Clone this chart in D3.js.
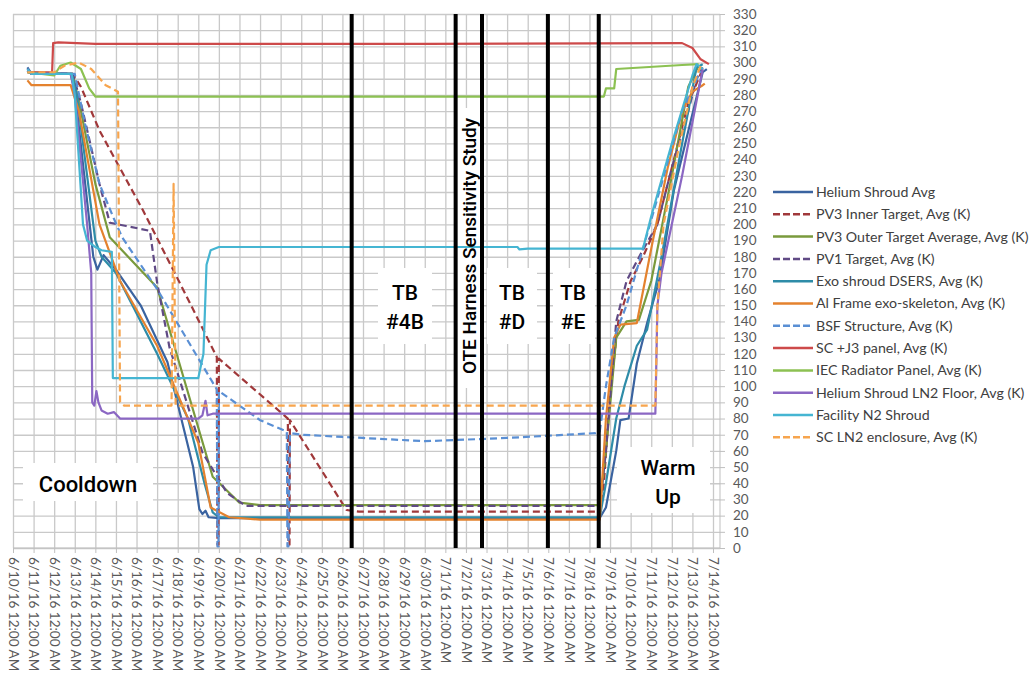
<!DOCTYPE html>
<html lang="en">
<head>
<meta charset="UTF-8">
<title>Thermal Vacuum Test Temperatures</title>
<script src="https://d3js.org/d3.v7.min.js"></script>
<style>
    body { margin: 0; background: #fff; }
    .grid line { stroke: #c9c9c9; stroke-width: 1.3; }
    .grid path { display: none; }
    .axis text { fill: #595959; font-family: Lato, "Open Sans", sans-serif; font-size: 13.5px; }
    .axis path, .axis line { stroke: #bfbfbf; }
    .legend text { fill: #404040; font-family: Lato, "Open Sans", sans-serif; font-size: 14.2px; }
    .note { fill: #000; font-family: Roboto, "Liberation Sans", sans-serif; font-weight: 500; }
</style>
</head>
<body>
<div id="chart"></div>
<script>
// x values are days after 6/10/16 12:00 AM, y values are Kelvin
const xLabels = [
    "6/10/16 12:00 AM", "6/11/16 12:00 AM", "6/12/16 12:00 AM", "6/13/16 12:00 AM",
    "6/14/16 12:00 AM", "6/15/16 12:00 AM", "6/16/16 12:00 AM", "6/17/16 12:00 AM",
    "6/18/16 12:00 AM", "6/19/16 12:00 AM", "6/20/16 12:00 AM", "6/21/16 12:00 AM",
    "6/22/16 12:00 AM", "6/23/16 12:00 AM", "6/24/16 12:00 AM", "6/25/16 12:00 AM",
    "6/26/16 12:00 AM", "6/27/16 12:00 AM", "6/28/16 12:00 AM", "6/29/16 12:00 AM",
    "6/30/16 12:00 AM", "7/1/16 12:00 AM", "7/2/16 12:00 AM", "7/3/16 12:00 AM",
    "7/4/16 12:00 AM", "7/5/16 12:00 AM", "7/6/16 12:00 AM", "7/7/16 12:00 AM",
    "7/8/16 12:00 AM", "7/9/16 12:00 AM", "7/10/16 12:00 AM", "7/11/16 12:00 AM",
    "7/12/16 12:00 AM", "7/13/16 12:00 AM", "7/14/16 12:00 AM"
];

const seriesNames = [
    "Helium Shroud Avg", "PV3 Inner Target, Avg (K)", "PV3 Outer Target Average, Avg (K)",
    "PV1 Target, Avg (K)", "Exo shroud DSERS, Avg (K)", "Al Frame exo-skeleton, Avg (K)",
    "BSF Structure, Avg (K)", "SC +J3 panel, Avg (K)", "IEC Radiator Panel, Avg (K)",
    "Helium Shroud LN2 Floor, Avg (K)", "Facility N2 Shroud", "SC LN2 enclosure, Avg (K)"
];

const heliumShroud = [[0.7,297],[0.9,293],[2.8,293],[3.0,283],[3.9,180],[4.1,172],[4.4,181],[5.0,172],
    [6.2,150],[7.5,115],[8.75,50],[9.05,24],[9.2,21],[9.35,23],[9.5,19],[10,18.5],[28.5,18.5],
    [28.8,25],[29.3,60],[29.5,79],[29.9,80],[30.3,114],[30.8,139],[31.4,166],[32.1,221],
    [32.9,263],[33.5,294],[33.7,296]];
const pv3Inner = [[0.7,295],[0.9,293],[2.9,293],[3.3,285],[4.2,258],[6.3,209],[8.45,155],[9.9,118],
    [9.93,2],[9.98,2],[10.0,117],[13.35,80],[13.38,2],[13.43,2],[13.45,79],[16.2,23.5],[16.8,22.5],
    [28.5,22.5],[28.7,40],[29.0,95],[29.4,140],[30.0,165],[30.6,180],[31.3,200],[32,235],
    [32.8,275],[33.5,296]];
const pv3Outer = [[0.7,294],[2.9,293],[3.3,270],[4.0,225],[4.7,192],[7,161],[9.7,44],[11,28],
    [12,26.5],[28.5,26.5],[28.8,60],[29.3,130],[29.8,140],[30.4,141],[31.0,165],[32,230],
    [32.8,285],[33.3,298]];
const pv1Target = [[0.7,294],[2.9,293],[3.3,275],[4.2,225],[4.7,201],[5.5,199],[6.65,196],[7.0,164],
    [7.6,124],[9.2,59],[10.4,34],[11.3,26],[28.5,26],[28.8,60],[29.3,140],[29.8,165],[30.5,182],
    [31.3,200],[32,235],[32.7,265],[33.2,290],[33.5,297]];
const exoShroud = [[0.7,295],[0.9,293],[2.85,293],[3.1,280],[4.0,190],[4.3,180],[5,170],[7,120],
    [8.5,80],[9.3,40],[9.7,22],[10,19],[28.5,19],[28.8,40],[29.3,80],[29.7,100],[30.3,125],
    [30.8,135],[31.5,180],[32.5,250],[33.2,297],[33.5,299]];
const alFrame = [[0.7,289],[0.9,286],[2.8,286],[3.2,270],[4.2,200],[5.2,165],[7,125],[9.0,65],
    [9.6,25],[10.5,19],[12,17.5],[28.5,17.5],[28.8,80],[29.2,130],[29.5,138],[30.3,139],
    [31.0,185],[31.8,235],[32.5,270],[33.0,282],[33.5,286],[33.6,287]];
const bsfStructure = [[0.7,295],[0.9,293],[3.0,293],[3.5,262],[4.2,225],[4.85,205],[5.3,192],
    [7.0,160],[9.9,98],[9.93,1],[9.98,1],[10.0,97],[11,88],[12,79],[13.3,72],[13.33,1],[13.38,1],
    [13.45,71],[14,70],[17,68],[20,66],[22,67],[24,68],[28.3,71],[28.5,72],[28.8,100],
    [29.2,130],[29.8,150],[30.6,185],[31.5,225],[32.5,270],[33.4,295]];
const scJ3Panel = [[0.7,294],[1.9,294],[1.95,312],[2.2,312.5],[4,311.5],[20,311.5],[32.5,312],
    [33,309],[33.4,302],[33.8,299]];
const iecRadiator = [[0.7,294],[2.0,292],[2.3,298],[2.8,300],[3.3,296],[3.7,284],[4.0,279],
    [28.7,279],[28.8,284],[29.2,284],[29.3,296],[32.5,298.5],[33.3,299]];
const heliumLN2Floor = [[0.7,296],[0.9,293],[2.8,293],[3.0,280],[3.6,200],[3.8,170],[3.85,90],
    [3.95,88],[4.05,97],[4.15,90],[4.3,85],[4.6,83],[4.9,84],[5.2,80],[9.0,80],[9.2,82],
    [9.35,91],[9.45,82],[9.7,83],[31.2,83],[31.3,150],[31.5,170],[32.5,230],[33.5,296]];
const facilityN2 = [[0.7,296],[0.9,293],[2.85,293],[3.0,280],[3.4,200],[3.6,190],[4.0,186],
    [4.3,184],[4.8,183],[4.85,105],[5.5,105],[9.0,105],[9.25,120],[9.4,175],[9.6,184],[10,186],
    [24.5,186],[24.6,184.5],[25,185],[30.6,185],[31,205],[32,250],[33,292],[33.2,299],[33.5,296]];
const scLN2Enclosure = [[0.7,294],[2.0,294],[2.5,298],[3.2,300],[3.8,296],[4.5,286],[5.1,282],
    [5.2,90],[5.4,88],[7.7,88],[7.8,225],[7.9,88],[31.2,88],[31.3,150],[31.6,200],[32.3,245],
    [33.0,285],[33.4,298]];

// test phase markers (days)
const markerDays = [16.45, 21.5, 22.78, 25.98, 28.45];

const allSeries = [heliumShroud, pv3Inner, pv3Outer, pv1Target, exoShroud, alFrame,
    bsfStructure, scJ3Panel, iecRadiator, heliumLN2Floor, facilityN2, scLN2Enclosure];

const colors = ["#3a63a0", "#a0383a", "#7a9a3c", "#604a85", "#2e8ca8", "#e4822e",
    "#5a8fd4", "#cd4a4a", "#8cc152", "#8b67c3", "#45b5d2", "#f7a54e"];
const dashed = [false, true, false, true, false, false, true, false, false, false, false, true];

const W = 1036, H = 679;
const svg = d3.select("#chart").append("svg")
    .attr("width", W).attr("height", H);

const x = d3.scaleLinear().domain([0, 34.34]).range([13, 720]);
const y = d3.scaleLinear().domain([0, 330]).range([548, 14]);

// grid
svg.append("g")
    .attr("class", "grid")
    .attr("transform", "translate(0,548)")
    .call(d3.axisBottom(x).tickValues(d3.range(0, 35)).tickSize(-534).tickFormat(""));
svg.append("g")
    .attr("class", "grid")
    .attr("transform", "translate(13,0)")
    .call(d3.axisLeft(y).tickValues(d3.range(0, 331, 10)).tickSize(-707).tickFormat(""));

// white label boxes (they cover the grid)
const boxes = [
    [23, 463, 130, 38], [617, 447, 93, 66],
    [378, 268, 54, 76], [487, 268, 50, 76], [553, 268, 42, 76], [457, 108, 23, 280]
];
svg.selectAll(".box").data(boxes).enter().append("rect")
    .attr("x", d => d[0]).attr("y", d => d[1])
    .attr("width", d => d[2]).attr("height", d => d[3])
    .attr("fill", "#fff");

// axes
const yAxis = svg.append("g")
    .attr("class", "axis")
    .attr("transform", "translate(720,0)")
    .call(d3.axisRight(y).tickValues(d3.range(0, 331, 10)).tickSize(5).tickPadding(8));
yAxis.select(".domain").attr("d", "M0,548V14");

const xAxis = svg.append("g")
    .attr("class", "axis")
    .attr("transform", "translate(0,548)")
    .call(d3.axisBottom(x).tickValues(d3.range(0, 35)).tickSize(5).tickFormat(i => xLabels[i]));
xAxis.select(".domain").attr("d", "M13,0H720");
xAxis.selectAll("text")
    .attr("transform", "rotate(90)")
    .attr("text-anchor", "start")
    .attr("x", 9).attr("y", 0).attr("dy", "0.35em");

// series
const line = d3.line().x(d => x(d[0])).y(d => y(d[1]));
svg.selectAll(".series").data(allSeries).enter().append("path")
    .attr("d", line)
    .attr("fill", "none")
    .attr("stroke", (d, i) => colors[i])
    .attr("stroke-width", 2.2)
    .attr("stroke-linejoin", "round")
    .attr("stroke-dasharray", (d, i) => dashed[i] ? "7,4" : null);

// phase markers
svg.selectAll(".marker").data(markerDays).enter().append("line")
    .attr("x1", d => x(d)).attr("x2", d => x(d))
    .attr("y1", y(330)).attr("y2", y(0))
    .attr("stroke", "#000").attr("stroke-width", 4);

// annotations
const notes = [
    {t: "Cooldown", x: 88, y: 484, s: 22},
    {t: "Warm", x: 668, y: 468, s: 21}, {t: "Up", x: 668, y: 497, s: 21},
    {t: "TB", x: 405, y: 293, s: 21}, {t: "#4B", x: 405, y: 322, s: 21},
    {t: "TB", x: 512, y: 293, s: 21}, {t: "#D", x: 512, y: 322, s: 21},
    {t: "TB", x: 573, y: 293, s: 21}, {t: "#E", x: 573, y: 322, s: 21}
];
svg.selectAll(".note").data(notes).enter().append("text")
    .attr("class", "note")
    .attr("x", d => d.x).attr("y", d => d.y)
    .attr("dy", "0.35em")
    .attr("text-anchor", "middle")
    .style("font-size", d => d.s + "px")
    .text(d => d.t);
svg.append("text")
    .attr("class", "note")
    .attr("transform", "translate(469,246) rotate(-90)")
    .attr("text-anchor", "middle")
    .attr("dy", "0.35em")
    .style("font-size", "19px")
    .text("OTE Harness Sensitivity Study");

// legend
const legend = svg.append("g").attr("class", "legend");
const items = legend.selectAll("g").data(seriesNames).enter().append("g")
    .attr("transform", (d, i) => `translate(773,${192 + i * 22.3})`);
items.append("line")
    .attr("x1", 0).attr("x2", 40)
    .attr("stroke", (d, i) => colors[i])
    .attr("stroke-width", 2.5)
    .attr("stroke-dasharray", (d, i) => dashed[i] ? "7,3" : null);
items.append("text")
    .attr("x", 43).attr("dy", "0.35em")
    .text(d => d);
</script>
</body>
</html>
